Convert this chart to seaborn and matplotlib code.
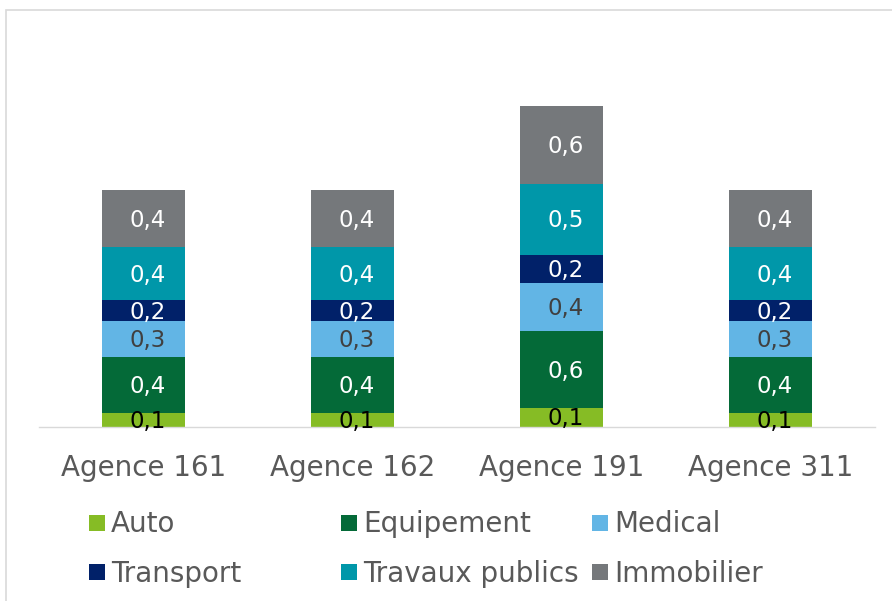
import matplotlib
matplotlib.use("Agg")
import matplotlib.pyplot as plt
from matplotlib.patches import Rectangle
import pandas as pd
import seaborn as sns

# Encours par agence et par secteur
agences = ["Agence 161", "Agence 162", "Agence 191", "Agence 311"]
auto = [0.105, 0.105, 0.14, 0.105]
equipement = [0.42, 0.42, 0.575, 0.42]
medical = [0.265, 0.265, 0.36, 0.265]
transport = [0.16, 0.16, 0.215, 0.16]
travaux_publics = [0.395, 0.395, 0.53, 0.395]
immobilier = [0.43, 0.43, 0.585, 0.43]

secteurs = ["Auto", "Equipement", "Medical", "Transport", "Travaux publics", "Immobilier"]
series = [auto, equipement, medical, transport, travaux_publics, immobilier]
couleurs = ["#86BC25", "#046A38", "#62B5E5", "#012169", "#0097A9", "#75787B"]
couleurs_texte = ["#000000", "#FFFFFF", "#404040", "#FFFFFF", "#FFFFFF", "#FFFFFF"]

sns.set_style("white")
plt.rcParams["font.family"] = ["DejaVu Sans"]

GRIS_TEXTE = "#595959"
GRIS_TRAIT = "#D9D9D9"

fig = plt.figure(figsize=(8.92, 6.01), dpi=100)
W, H = 892, 601
ax = fig.add_axes([39 / W, (H - 426.7) / H, 836 / W, 400 / H])

df = pd.DataFrame({"agence": agences})
cumul = [0.0] * len(agences)
for nom, valeurs, coul, ctexte in zip(secteurs, series, couleurs, couleurs_texte):
    df[nom] = valeurs
    sns.barplot(data=df, x="agence", y=nom, color=coul, saturation=1,
                width=0.4, bottom=cumul, errorbar=None, ax=ax, linewidth=0)
    for i, v in enumerate(valeurs):
        ax.annotate(f"{v:.1f}".replace(".", ","), (i, cumul[i] + v / 2),
                    xytext=(3, -1), textcoords="offset points",
                    ha="center", va="center", fontsize=16.5, color=ctexte)
    cumul = [c + v for c, v in zip(cumul, valeurs)]

ax.set_xlim(-0.5, 3.5)
ax.set_ylim(0, 3.0)
ax.set_xlabel("")
ax.set_ylabel("")
ax.set_yticks([])
ax.tick_params(axis="x", length=0, pad=19.5, labelsize=20, labelcolor=GRIS_TEXTE)
for cote in ["left", "right", "top"]:
    ax.spines[cote].set_visible(False)
ax.spines["bottom"].set_color(GRIS_TRAIT)
ax.spines["bottom"].set_linewidth(1.0)
ax.set_facecolor("none")

# Cadre du graphique
fig.add_artist(Rectangle((5.5 / W, -0.05), 1.0, 1.05 - 10.5 / H,
                         transform=fig.transFigure, fill=False,
                         edgecolor=GRIS_TRAIT, linewidth=1.2))

# Légende sur deux lignes, trois colonnes
col_x = [89, 341, 592]
row_y = [522.8, 572.0]
row_base = [532.3, 581.7]
taille = 16
for k, (nom, coul) in enumerate(zip(secteurs, couleurs)):
    r, c = divmod(k, 3)
    x0, yc = col_x[c], row_y[r]
    fig.add_artist(Rectangle((x0 / W, (H - yc - taille / 2) / H), taille / W, taille / H,
                             transform=fig.transFigure, facecolor=coul, edgecolor="none"))
    fig.text((x0 + taille + 6) / W, (H - row_base[r]) / H, nom, fontsize=20,
             color=GRIS_TEXTE, ha="left", va="baseline")

fig.savefig("out.png", dpi=100, facecolor="white")
